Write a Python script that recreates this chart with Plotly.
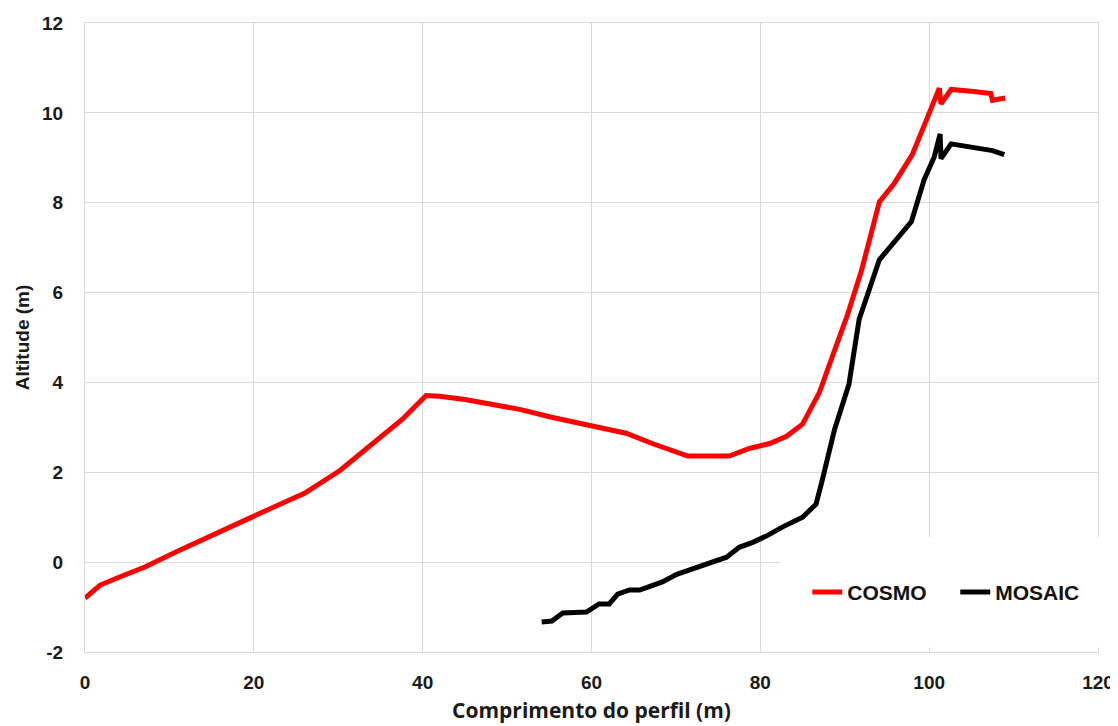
import plotly.graph_objects as go

cosmo_x = [0, 1.8, 4.1, 7.1, 10.7, 14.8, 19.5, 23.1, 26.0, 30.2, 34.3, 37.6, 40.4, 42.0, 45.0, 49.1,
           51.5, 55.4, 58.3, 60.9, 64.1, 67.2, 71.4, 76.3, 78.7, 81.1, 83.1, 85.0, 87.0, 88.4, 90.3,
           92.0, 94.1, 95.9, 98.0, 99.8, 101.0, 101.2, 101.4, 102.6, 105.0, 107.3, 107.5, 108.0, 109.0]
cosmo_y = [-0.8, -0.51, -0.33, -0.11, 0.22, 0.56, 0.98, 1.29, 1.53, 2.04, 2.67, 3.18, 3.71, 3.69, 3.62, 3.47,
           3.40, 3.22, 3.11, 3.0, 2.87, 2.64, 2.36, 2.36, 2.53, 2.64, 2.8, 3.07, 3.78, 4.51, 5.49,
           6.5, 8.02, 8.44, 9.07, 9.9, 10.5, 10.55, 10.2, 10.52, 10.48, 10.43, 10.28, 10.3, 10.33]

mosaic_x = [54.1, 55.3, 56.6, 59.4, 60.9, 62.1, 63.1, 64.5, 65.7, 68.4, 70.1, 76.0, 77.5, 79.1, 80.7,
            82.6, 85.0, 86.6, 87.3, 88.8, 90.5, 91.7, 94.1, 97.9, 99.4, 100.6, 101.3, 101.4, 102.6,
            105.6, 107.5, 108.9]
mosaic_y = [-1.33, -1.31, -1.13, -1.11, -0.93, -0.93, -0.71, -0.62, -0.62, -0.44, -0.27, 0.11, 0.33, 0.44, 0.58,
            0.78, 1.0, 1.29, 1.8, 2.96, 3.96, 5.4, 6.73, 7.58, 8.51, 9.02, 9.53, 8.98, 9.31,
            9.22, 9.16, 9.07]

x_ticks = [0, 20, 40, 60, 80, 100, 120]
y_ticks = [-2, 0, 2, 4, 6, 8, 10, 12]

GRID = "#d9d9d9"

fig = go.Figure()
fig.add_trace(go.Scatter(x=cosmo_x, y=cosmo_y, mode="lines", name="COSMO",
                         line=dict(color="#ff0000", width=5)))
fig.add_trace(go.Scatter(x=mosaic_x, y=mosaic_y, mode="lines", name="MOSAIC",
                         line=dict(color="#000000", width=5)))

# white legend box covering the grid in the lower right corner
fig.add_shape(type="rect", xref="paper", yref="paper", x0=0.686, x1=1.02, y0=0.007, y1=0.183,
              fillcolor="white", line=dict(width=0), layer="above")

tickfont = dict(family="Liberation Sans, Arial", size=19, color="#1a1a1a", weight="bold")

fig.update_layout(
    width=1110, height=718,
    margin=dict(l=77, r=20, t=15, b=74, autoexpand=False),
    paper_bgcolor="white", plot_bgcolor="white",
    showlegend=True,
    legend=dict(orientation="h", x=0.713, y=0.095, xanchor="left", yanchor="middle",
                font=dict(family="Liberation Sans, Arial", size=21, color="#111", weight="bold"),
                bgcolor="rgba(0,0,0,0)", itemwidth=30, entrywidthmode="pixels", entrywidth=103),
    xaxis=dict(range=[0, 120], tickvals=x_ticks, ticktext=[str(v) for v in x_ticks],
               showgrid=True, gridcolor=GRID, gridwidth=1, zeroline=False,
               showline=True, mirror=True, linecolor=GRID, linewidth=1, automargin=False,
               tickfont=tickfont, ticks="", ticklabelstandoff=13,
               title=dict(text="Comprimento do perfil (m)", standoff=11,
                          font=dict(family="Open Sans, Lato, sans-serif", size=21, color="#1a1a1a", weight="bold"))),
    yaxis=dict(range=[-2, 12], tickvals=y_ticks, ticktext=[str(v) for v in y_ticks],
               showgrid=True, gridcolor=GRID, gridwidth=1, zeroline=False,
               showline=True, mirror=True, linecolor=GRID, linewidth=1, automargin=False,
               tickfont=tickfont, ticks="", ticklabelstandoff=17,
               title=dict(text="Altitude (m)", standoff=7,
                          font=dict(family="Liberation Sans, Arial", size=19, color="#1a1a1a", weight="bold"))),
)

fig.write_html("out.html")
